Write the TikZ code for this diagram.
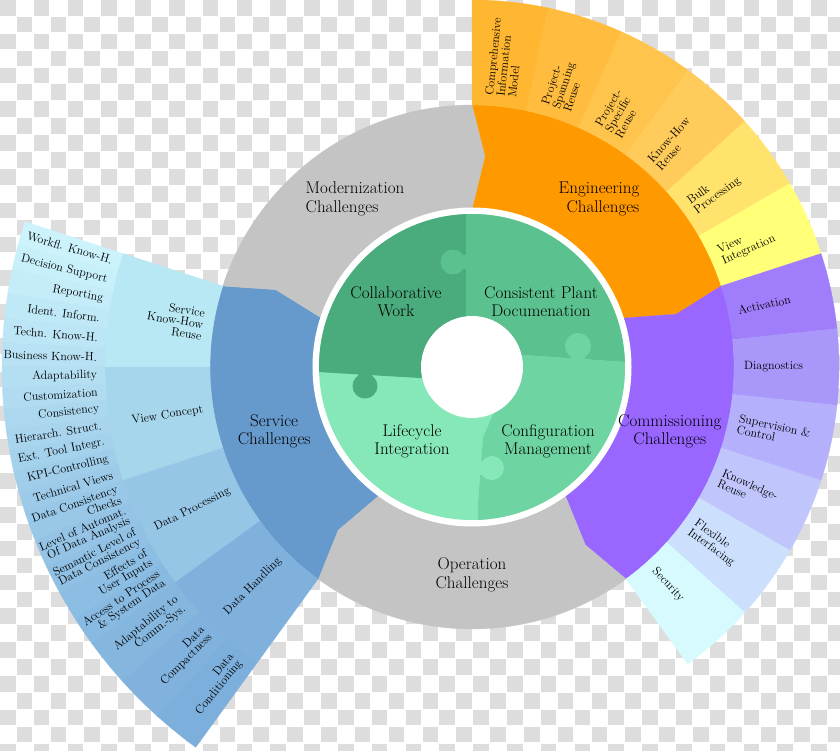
\documentclass[tikz,border=0pt]{standalone}
\definecolor{chk}{RGB}{221,221,221}
\definecolor{ringgray}{RGB}{196,196,196}
\definecolor{engc}{RGB}{255,153,0}
\definecolor{comc}{RGB}{153,102,255}
\definecolor{svcc}{RGB}{102,153,204}
\definecolor{engA}{RGB}{255,182,48}
\definecolor{engB}{RGB}{255,188,62}
\definecolor{engC}{RGB}{255,196,76}
\definecolor{engD}{RGB}{255,203,90}
\definecolor{engE}{RGB}{255,227,108}
\definecolor{engF}{RGB}{255,255,120}
\definecolor{comA}{RGB}{160,125,250}
\definecolor{comB}{RGB}{169,151,250}
\definecolor{comC}{RGB}{180,176,251}
\definecolor{comD}{RGB}{192,198,252}
\definecolor{comE}{RGB}{204,224,253}
\definecolor{comF}{RGB}{214,250,253}
\definecolor{svmA}{RGB}{184,232,244}
\definecolor{svmB}{RGB}{166,214,236}
\definecolor{svmC}{RGB}{150,198,230}
\definecolor{svmD}{RGB}{128,176,220}
\definecolor{svoTop}{RGB}{204,243,252}
\definecolor{svoBot}{RGB}{124,175,219}
\definecolor{pzTL}{RGB}{74,171,124}
\definecolor{pzTR}{RGB}{91,194,143}
\definecolor{pzBR}{RGB}{109,212,162}
\definecolor{pzBL}{RGB}{134,232,184}
\newcommand{\ringseg}[5]{\filldraw[fill=#5,draw=#5,line width=0.3pt] (#1:#3) arc[start angle=#1,end angle=#2,radius=#3] -- (#2:#4) arc[start angle=#2,end angle=#1,radius=#4] -- cycle;}
\tikzset{
  biglab/.style={font=\fontsize{17}{18.5}\selectfont, align=center, inner sep=0pt, text=black},
  ctrlab/.style={font=\fontsize{17}{18}\selectfont, align=center, inner sep=0pt, text=black},
  smlab/.style={font=\fontsize{12}{11.5}\selectfont, inner sep=0pt, text=black},
}
\begin{document}
\begin{tikzpicture}[x=1pt,y=1pt]
\useasboundingbox (-472,-383) rectangle (368,367);
% transparency checkerboard
\fill[white] (-472,-383) rectangle (368,367);
\foreach \i in {0,...,49}{\foreach \j in {0,...,44}{%
  \pgfmathtruncatemacro\kk{mod(\i+\j,2)}%
  \ifnum\kk=0 \fill[chk] ({-472+16.9*\i},{367-16.9*\j}) rectangle ++(15.6,-15.6);\fi}}
% inner ring wedges with chevron edges
\foreach \b/\c in {18/engc,-54/comc,-126/ringgray,162/svcc,90/ringgray}{
  \pgfmathsetmacro\bm{\b-3.5}
  \pgfmathsetmacro\e{\b+72}
  \pgfmathsetmacro\em{\b+68.5}
  \filldraw[fill=\c,draw=\c,line width=0.3pt] (\b:158pt) -- (\bm:211pt) -- (\b:262pt) arc[start angle=\b,end angle=\e,radius=262pt] -- (\em:211pt) -- (\e:158pt) arc[start angle=\e,end angle=\b,radius=158pt] -- cycle;
}
% engineering outer ring
\ringseg{78}{90}{262pt}{367pt}{engA}
\ringseg{66}{78}{262pt}{367pt}{engB}
\ringseg{54}{66}{262pt}{367pt}{engC}
\ringseg{42}{54}{262pt}{367pt}{engD}
\ringseg{30}{42}{262pt}{367pt}{engE}
\ringseg{18}{30}{262pt}{367pt}{engF}
% commissioning outer ring
\ringseg{6}{18}{262pt}{367pt}{comA}
\ringseg{-6}{6}{262pt}{367pt}{comB}
\ringseg{-18}{-6}{262pt}{367pt}{comC}
\ringseg{-30}{-18}{262pt}{367pt}{comD}
\ringseg{-42}{-30}{262pt}{367pt}{comE}
\ringseg{-54}{-42}{262pt}{367pt}{comF}
% service middle ring
\ringseg{162}{180}{262pt}{367pt}{svmA}
\ringseg{180}{198}{262pt}{367pt}{svmB}
\ringseg{198}{216}{262pt}{367pt}{svmC}
\ringseg{216}{234}{262pt}{367pt}{svmD}
% service outer ring segments
\foreach \s/\e/\k in {162/165/0,165/168/1,168/171/2,171/174/3,174/177/4,177/180/5,
 180/182.571/6,182.571/185.143/7,185.143/187.714/8,187.714/190.286/9,190.286/192.857/10,192.857/195.429/11,195.429/198/12,
 198/201.6/13,201.6/205.2/14,205.2/208.8/15,208.8/212.4/16,212.4/216/17,
 216/222/18,222/228/19,228/234/20}{
  \pgfmathtruncatemacro\pc{100-5*\k}
  \ringseg{\s}{\e}{367pt}{470pt}{svoTop!\pc!svoBot}
}
% service outer labels
\foreach \s/\e/\k/\t in {
 162/165/0/{Workfl. Know-H.},
 165/168/1/{Decision Support},
 168/171/2/{Reporting},
 171/174/3/{Ident. Inform.},
 174/177/4/{Techn. Know-H.},
 177/180/5/{Business Know-H.},
 180/182.571/6/{Adaptability},
 182.571/185.143/7/{Customization},
 185.143/187.714/8/{Consistency},
 187.714/190.286/9/{Hierarch. Struct.},
 190.286/192.857/10/{Ext. Tool Integr.},
 192.857/195.429/11/{KPI-Controlling},
 195.429/198/12/{Technical Views},
 198/201.6/13/{Data Consistency\\Checks},
 201.6/205.2/14/{Level of Automat.\\Of Data Analysis},
 205.2/208.8/15/{Semantic Level of\\Data Consistency},
 208.8/212.4/16/{Effects of\\User Inputs},
 212.4/216/17/{Access to Process\\\& System Data},
 216/222/18/{Adaptability to\\Comm.-Sys.},
 222/228/19/{Data\\Compactness},
 228/234/20/{Data\\Conditioning}}{
  \pgfmathsetmacro\a{(\s+\e)/2}
  \pgfmathsetmacro\rt{\a-180}
  \node[smlab, font=\fontsize{12}{10.5}\selectfont, anchor=east, align=right, rotate=\rt] (so\k) at (\a:375pt) {\t};
}
% white ring and puzzle
\fill[white] (0,0) circle[radius=159.5pt];
\begin{scope}
  \clip (0,0) circle[radius=153pt];
  \fill[pzBL] (-160,-160) rectangle (160,160);
  % top-left piece with knob into lower-left
  \fill[pzTL] (-200,200) -- (-6,200) -- (-6,-11) -- (-52,-11) -- (-154,-5) -- (-200,-5) -- cycle;
  \fill[pzTL] (-107,-19) circle[radius=12.5pt];
  \fill[pzTL] (-114,-19) rectangle (-100,-6);
  % top-right piece with knob into top-left
  \fill[pzTR] (-6,200) -- (200,200) -- (200,5) -- (153,5) -- (51,12) -- (-6,12) -- cycle;
  \fill[pzTR] (-19,105) circle[radius=12.5pt];
  \fill[pzTR] (-19,98) rectangle (-5,112);
  % bottom-right piece with knob into top-right
  \fill[pzBR] (0,12) -- (51,12) -- (153,5) -- (200,5) -- (200,-200) -- (6,-200) -- (6,-138) -- (11,-71) -- (25,-38) -- (25,0) -- cycle;
  \fill[pzBR] (106,21) circle[radius=13pt];
  \fill[pzBR] (99,6) rectangle (113,21);
  % knob of lower-left piece into bottom-right
  \fill[pzBL] (20,-101) circle[radius=12pt];
  \fill[pzBL] (6,-108) rectangle (20,-94);
\end{scope}
\fill[white] (0,0) circle[radius=51pt];
% centre labels
\node[ctrlab] (cw) at (-76,65) {Collaborative\\Work};
\node[ctrlab] (cp) at (69,65) {Consistent Plant\\Documenation};
\node[ctrlab] (li) at (-60,-74) {Lifecycle\\Integration};
\node[ctrlab] (cm) at (76,-74) {Configuration\\Management};
% inner ring labels
\node[biglab, align=left] (mod) at (-117,168) {Modernization\\Challenges};
\node[biglab, align=right] (eng) at (127,168) {Engineering\\Challenges};
\node[biglab] (com) at (-18:208pt) {Commissioning\\Challenges};
\node[biglab] (ope) at (-90:208pt) {Operation\\Challenges};
\node[biglab] (svc) at (198:208pt) {Service\\Challenges};
% engineering / commissioning outer labels
\foreach \a/\k/\t in {84/0/{Comprehensive\\Information\\Model},72/1/{Project-\\Spanning\\Reuse},60/2/{Project-\\Specific\\Reuse},48/3/{Know-How\\Reuse},36/4/{Bulk\\Processing},24/5/{View\\Integration},12/6/{Activation},0/7/{Diagnostics},-12/8/{Supervision \&\\Control},-24/9/{Knowledge-\\Reuse},-36/10/{Flexible\\Interfacing},-48/11/{Security}}{
  \node[smlab, anchor=west, align=left, rotate=\a] (ec\k) at (\a:272pt) {\t};
}
% service middle labels
\foreach \a/\k/\t in {171/0/{Service\\Know-How\\Reuse},189/1/{View Concept},207/2/{Data Processing},225/3/{Data Handling}}{
  \pgfmathsetmacro\rt{\a-180}
  \node[smlab, anchor=east, align=right, rotate=\rt] (sm\k) at (\a:272pt) {\t};
}
\end{tikzpicture}
\end{document}
